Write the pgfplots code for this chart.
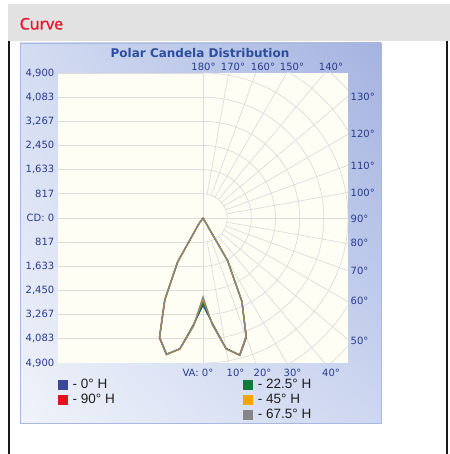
\documentclass[border=0pt]{standalone}
\usepackage{fontspec}
\setmainfont{DejaVu Sans}
\newfontfamily\legfont{Liberation Sans}
\newfontfamily\hdrfont[FakeBold=1.2]{Open Sans}
\usepackage{pgfplots}
\pgfplotsset{compat=1.18}
\usetikzlibrary{shadings}
\definecolor{hdrgray}{HTML}{E2E2E2}
\definecolor{curvered}{HTML}{E5142C}
\definecolor{tickC}{HTML}{283A8E}
\definecolor{titleC}{HTML}{2C4E9E}
\definecolor{creamC}{HTML}{FFFEF4}
\definecolor{gridC}{HTML}{DCDCDC}
\definecolor{cBlue}{HTML}{3A479B}
\definecolor{cRed}{HTML}{E3121B}
\definecolor{cGreen}{HTML}{0F7A3A}
\definecolor{cOrange}{HTML}{F5A500}
\definecolor{cGray}{HTML}{868686}
\definecolor{pUL}{HTML}{D3DCF1}
\definecolor{pUR}{HTML}{A4B3E0}
\definecolor{pLL}{HTML}{F0F3FA}
\definecolor{pLR}{HTML}{CDD7F0}
\definecolor{pBorder}{HTML}{A9B8E2}
\definecolor{legtext}{HTML}{1E1E1E}
\begin{document}
\begin{tikzpicture}
\begin{scope}[x=1bp,y=1bp]
\path[use as bounding box] (0,0) rectangle (450,454);
\fill[white] (0,0) rectangle (450,454);
% header
\fill[hdrgray] (8,413) rectangle (450,450);
\node[anchor=base west, inner sep=0pt, text=curvered, font=\hdrfont\fontsize{16bp}{18bp}\selectfont] at (19.5,424.5) {Curve};
% black side lines
\draw[line width=1.5bp, black!90] (9,0) -- (9,413);
\draw[line width=1.5bp, black!90] (447,0) -- (447,413);
% panel
\shade[upper left=pUL, upper right=pUR, lower left=pLL, lower right=pLR] (20,31) rectangle (381,411);
\draw[pBorder, line width=0.8bp] (20,31) rectangle (381,411);
% title
\node[anchor=base, inner sep=0pt, text=titleC, font=\bfseries\fontsize{12bp}{14bp}\selectfont] at (200,396.9) {Polar Candela Distribution};
% plot area
\fill[creamC] (58,91) rectangle (348,381);
\begin{scope}
\clip (58,91) rectangle (348,381);
\foreach \k in {-6,...,6} \draw[gridC, line width=0.7bp] (58,{236+\k*24.1667}) -- (203,{236+\k*24.1667});
\draw[gridC, line width=0.7bp] (203,91) -- (203,381);
\draw[gridC, line width=0.7bp] (203,236) -- (348,236);
\foreach \a in {10,20,...,170} \draw[gridC, line width=0.7bp] ({203+24.1667*sin(\a)},{236-24.1667*cos(\a)}) -- ({203+320*sin(\a)},{236-320*cos(\a)});
\foreach \k in {1,...,9} \draw[gridC, line width=0.7bp] (203,{236-\k*24.1667}) arc[start angle=-90, end angle=90, radius={\k*24.1667}];
\end{scope}
% angle labels
\begin{scope}[every node/.style={inner sep=0pt, text=tickC, font=\fontsize{10bp}{12bp}\selectfont}]
\node at (203.5,387) {180°};
\node at (233,387) {170°};
\node at (263,387) {160°};
\node at (292,387) {150°};
\node at (331,387) {140°};
\node[anchor=west] at (350.5,357.3) {130°};
\node[anchor=west] at (350.5,320) {120°};
\node[anchor=west] at (350.5,288.3) {110°};
\node[anchor=west] at (350.5,261.3) {100°};
\node[anchor=west] at (350.5,235) {90°};
\node[anchor=west] at (350.5,210.7) {80°};
\node[anchor=west] at (350.5,183.3) {70°};
\node[anchor=west] at (350.5,153.3) {60°};
\node[anchor=west] at (350.5,113.3) {50°};
\node[anchor=east] at (213.5,81.5) {VA: 0°};
\node at (235.5,81.5) {10°};
\node at (262.5,81.5) {20°};
\node at (292.5,81.5) {30°};
\node at (331,81.5) {40°};
\end{scope}
\end{scope}
\begin{axis}[
  at={(58bp,91bp)}, anchor=south west, scale only axis,
  width=290bp, height=290bp,
  xmin=-4900, xmax=4900, ymin=-4900, ymax=4900,
  axis line style={draw=none},
  xtick=\empty,
  ytick={-4900,-4083,-3267,-2450,-1633,-817,0,817,1633,2450,3267,4083,4900},
  yticklabels={{4,900},{4,083},{3,267},{2,450},{1,633},817,{CD: 0},817,{1,633},{2,450},{3,267},{4,083},{4,900}},
  major tick length=0pt,
  yticklabel style={font=\fontsize{10bp}{12bp}\selectfont, text=tickC, inner sep=0pt, xshift=-3.5bp},
  legend columns=2, legend cell align=left,
  legend image code/.code={\fill[#1] (0bp,-5bp) rectangle (10bp,5bp); \path (15bp,0bp);},
  legend style={at={(-0.001,-0.052)}, anchor=north west, draw=none, fill=none,
    inner sep=0pt, outer sep=0pt,
    font=\legfont\fontsize{13.5bp}{15bp}\selectfont, text=legtext,
    nodes={inner sep=0pt, text height=10bp, text depth=3bp},
    row sep=2bp, column sep=0pt,
    /tikz/every even column/.append style={column sep=128bp}},
]
\addlegendimage{fill=cBlue, draw=none}\addlegendentry{- 0° H}
\addlegendimage{fill=cGreen, draw=none}\addlegendentry{- 22.5° H}
\addlegendimage{fill=cRed, draw=none}\addlegendentry{- 90° H}
\addlegendimage{fill=cOrange, draw=none}\addlegendentry{- 45° H}
\addlegendimage{empty legend}\addlegendentry{}
\addlegendimage{fill=cGray, draw=none}\addlegendentry{- 67.5° H}
% 0 deg H
\addplot[cBlue, line width=1.2bp, data cs=polar, forget plot] coordinates {
(-130,0) (-125,250) (-120,1700) (-115,3050) (-110,4300) (-105,4780) (-100,4480) (-95,3600) (-90,2950)
(-85,3560) (-80,4470) (-75,4810) (-70,4290) (-65,3120) (-60,1660) (-55,0)};
% 90 deg H
\addplot[cRed, line width=1.2bp, data cs=polar, forget plot] coordinates {
(-130,0) (-125,260) (-120,1740) (-115,3080) (-110,4310) (-105,4770) (-100,4500) (-95,3660) (-90,2760)
(-85,3600) (-80,4490) (-75,4790) (-70,4250) (-65,3100) (-60,1650) (-55,0)};
% 22.5 deg H
\addplot[cGreen, line width=1.2bp, data cs=polar, forget plot] coordinates {
(-130,0) (-125,240) (-120,1710) (-115,3040) (-110,4280) (-105,4760) (-100,4490) (-95,3620) (-90,2880)
(-85,3570) (-80,4480) (-75,4800) (-70,4270) (-65,3110) (-60,1660) (-55,0)};
% 45 deg H
\addplot[cOrange, line width=1.2bp, data cs=polar, forget plot] coordinates {
(-130,0) (-125,250) (-120,1720) (-115,3050) (-110,4290) (-105,4770) (-100,4500) (-95,3640) (-90,2720)
(-85,3600) (-80,4500) (-75,4800) (-70,4260) (-65,3110) (-60,1660) (-55,0)};
% 67.5 deg H
\addplot[cGray, line width=1.2bp, data cs=polar, forget plot] coordinates {
(-130,0) (-125,250) (-120,1720) (-115,3050) (-110,4290) (-105,4770) (-100,4490) (-95,3660) (-90,2660)
(-85,3620) (-80,4490) (-75,4800) (-70,4260) (-65,3100) (-60,1660) (-55,0)};
\end{axis}
\end{tikzpicture}
\end{document}
